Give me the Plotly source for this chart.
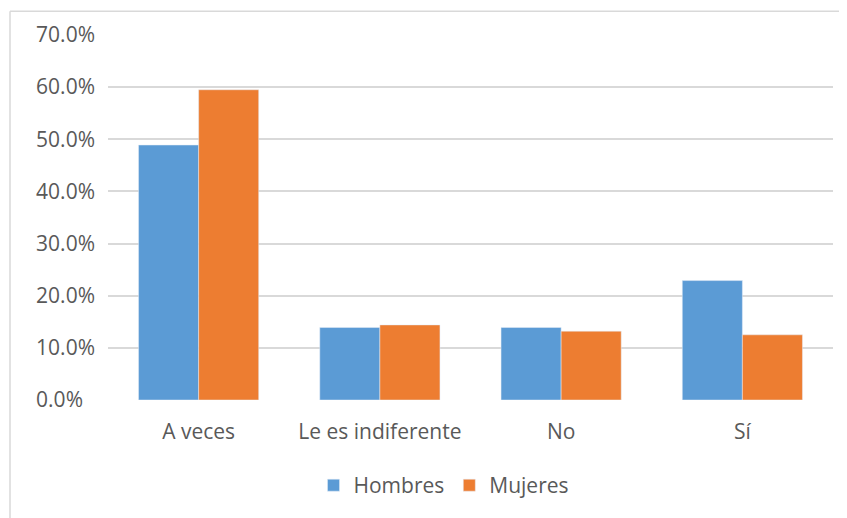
import plotly.graph_objects as go

categorias = ['A veces', 'Le es indiferente', 'No', 'Sí']
hombres = [0.489, 0.139, 0.139, 0.229]
mujeres = [0.595, 0.144, 0.132, 0.125]
ticks_y = [0, 0.1, 0.2, 0.3, 0.4, 0.5, 0.6, 0.7]
# Excel alinea a la izquierda: "0.0%" lleva un espacio de cifra al final
etiquetas_y = ['0.0%\u2007', '10.0%', '20.0%', '30.0%', '40.0%', '50.0%', '60.0%', '70.0%']

FONT = 'Open Sans'
GRIS = '#595959'

fig = go.Figure()
fig.add_trace(go.Bar(x=categorias, y=hombres, name='Hombres', marker_color='#5B9BD5'))
fig.add_trace(go.Bar(x=categorias, y=mujeres, name='Mujeres', marker_color='#ED7D31'))

# la página pone la figura 8px hacia abajo y a la derecha
OFF = 8
W, H = 847, 518
ml, mr, mt, mb = 108 - OFF, 22, 33 - OFF, 126
pw, ph = W - ml - mr, H - mt - mb
def px(x): return (x - OFF - ml) / pw
def py(y): return (H - mb - (y - OFF)) / ph

# marco del gráfico (solo arriba e izquierda quedan visibles)
fig.add_shape(type='line', xref='paper', yref='paper', x0=px(10), x1=px(860), y0=py(9), y1=py(9),
              line=dict(color='#D9D9D9', width=1.5))
fig.add_shape(type='line', xref='paper', yref='paper', x0=px(10), x1=px(10), y0=py(9), y1=py(530),
              line=dict(color='#D9D9D9', width=1.5))

fig.update_layout(
    width=W, height=H,
    margin=dict(l=ml, r=mr, t=mt, b=mb),
    paper_bgcolor='white', plot_bgcolor='white',
    barmode='group', bargap=0.337, bargroupgap=0,
    font=dict(family=FONT, size=21, color=GRIS),
    showlegend=True,
    legend=dict(orientation='h', x=px(444), xanchor='center', y=py(486), yanchor='middle',
                font=dict(size=21, color=GRIS)),
)
fig.update_yaxes(range=[0, 0.7], tickvals=ticks_y, ticktext=etiquetas_y, gridcolor='#D9D9D9',
                 gridwidth=1.5, zeroline=False, showline=False, ticks='', ticklabelstandoff=12)
fig.update_xaxes(showline=False, ticks='', ticklabelstandoff=17)

fig.write_html('out.html')
